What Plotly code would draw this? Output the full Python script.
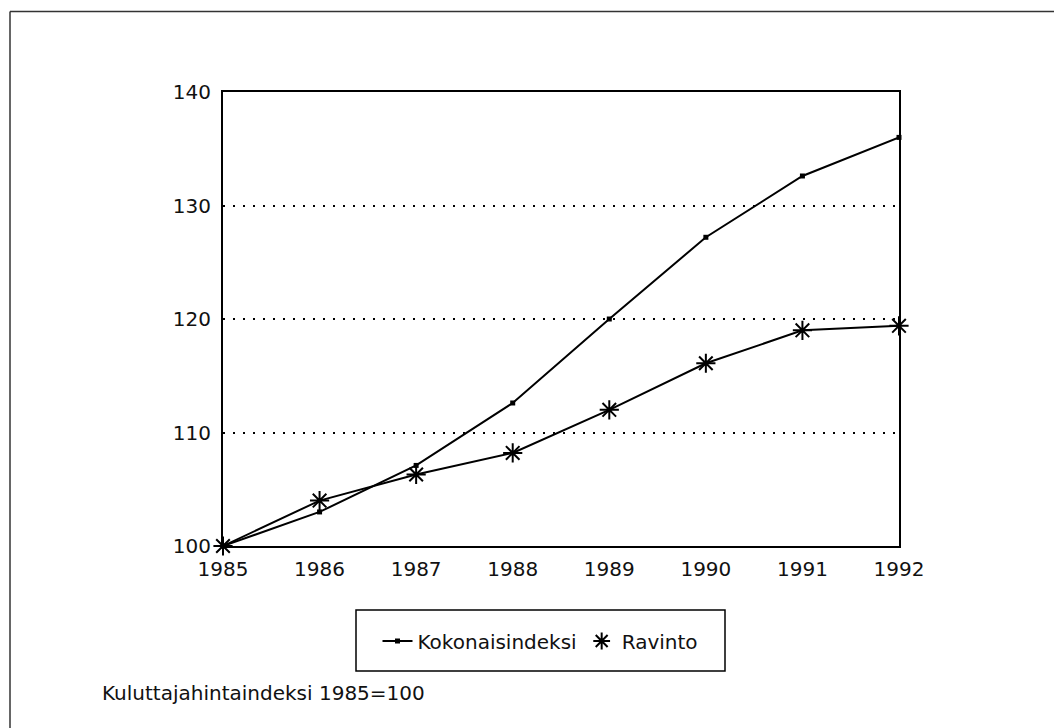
import plotly.graph_objects as go

years = [1985, 1986, 1987, 1988, 1989, 1990, 1991, 1992]
kokonaisindeksi = [100.0, 103.0, 107.1, 112.6, 120.0, 127.2, 132.6, 136.0]
ravinto = [100.0, 104.0, 106.3, 108.2, 112.0, 116.1, 119.0, 119.4]
y_ticks = [100, 110, 120, 130, 140]
caption = "Kuluttajahintaindeksi 1985=100"

FONT = "DejaVu Sans, Liberation Sans, Arial, sans-serif"
FS = 20
OFF = 8  # page body offset
W, H = 1062 - OFF, 728 - OFF
L, T = 223 - OFF, 92 - OFF
R, B = W - (899 - OFF), H - (546 - OFF)
PW, PH = W - L - R, H - T - B


def px(x):
    return (x - OFF - L) / PW


def py(y):
    return (H - B - (y - OFF)) / PH


fig = go.Figure()

fig.add_trace(go.Scatter(
    x=years, y=kokonaisindeksi, mode="lines+markers", showlegend=False,
    line=dict(color="black", width=2),
    marker=dict(symbol="square", size=5, color="black"),
    cliponaxis=False,
))
fig.add_trace(go.Scatter(
    x=years, y=ravinto, mode="lines+markers", showlegend=False,
    line=dict(color="black", width=2),
    marker=dict(symbol="asterisk-open", size=16, color="black",
                line=dict(color="black", width=2)),
    cliponaxis=False,
))
# legend entries
fig.add_trace(go.Scatter(
    x=[None], y=[None], mode="lines+markers", name="Kokonaisindeksi",
    line=dict(color="black", width=2),
    marker=dict(symbol="square", size=5, color="black"),
))
fig.add_trace(go.Scatter(
    x=[None], y=[None], mode="markers", name="Ravinto",
    marker=dict(symbol="asterisk-open", size=14, color="black",
                line=dict(color="black", width=2)),
))

fig.update_layout(
    width=W, height=H,
    margin=dict(l=L, r=R, t=T, b=B, pad=0),
    paper_bgcolor="white", plot_bgcolor="white",
    font=dict(family=FONT, size=FS, color="#111"),
    showlegend=True,
    legend=dict(
        orientation="h", x=px((356 + 725) / 2), y=py(641), xanchor="center", yanchor="middle",
        font=dict(family=FONT, size=FS, color="#111"),
        bgcolor="rgba(0,0,0,0)", borderwidth=0, itemwidth=30,
    ),
    xaxis=dict(
        range=[1985, 1992], tickmode="array", tickvals=years,
        ticktext=[str(y) for y in years],
        showgrid=False, zeroline=False, showline=True, linecolor="black",
        linewidth=2, mirror=True, ticks="", ticklabelstandoff=4,
        tickfont=dict(family=FONT, size=FS, color="#111"),
    ),
    yaxis=dict(
        range=[100, 140], tickmode="array", tickvals=y_ticks,
        showgrid=True, gridcolor="black", gridwidth=1.5, griddash="2px,8px",
        zeroline=False, showline=True, linecolor="black", linewidth=2,
        mirror=True, ticks="", ticklabelstandoff=6,
        tickfont=dict(family=FONT, size=FS, color="#111"),
    ),
    shapes=[
        # outer frame (top & left edges visible)
        dict(type="line", xref="paper", yref="paper",
             x0=px(10), y0=py(740), x1=px(10), y1=py(11.5),
             line=dict(color="#333", width=1.5)),
        dict(type="line", xref="paper", yref="paper",
             x0=px(10), y0=py(11.5), x1=px(1075), y1=py(11.5),
             line=dict(color="#333", width=1.5)),
        # legend box
        dict(type="rect", xref="paper", yref="paper",
             x0=px(356), x1=px(725), y0=py(610), y1=py(671),
             line=dict(color="black", width=1.5), fillcolor="rgba(0,0,0,0)"),
    ],
    annotations=[
        dict(text=caption, xref="paper", yref="paper", x=px(100), y=py(693),
             xanchor="left", yanchor="middle", showarrow=False,
             font=dict(family=FONT, size=FS, color="#111")),
    ],
)

fig.write_html("out.html")
